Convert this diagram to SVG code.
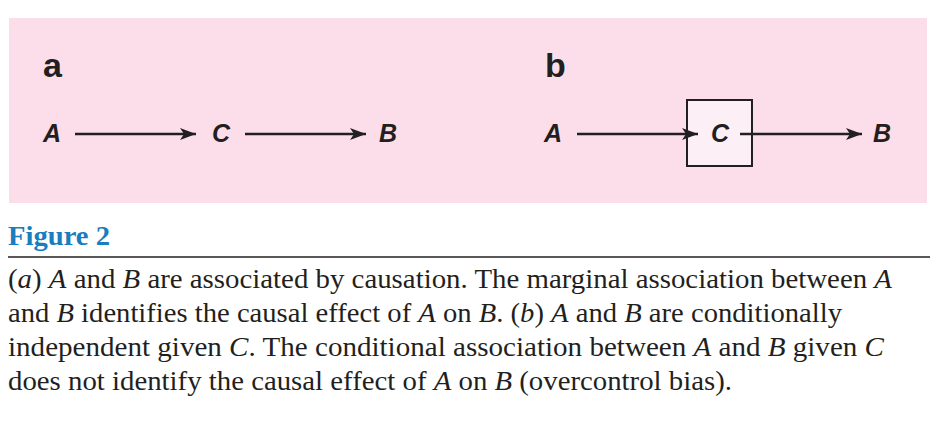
<svg xmlns="http://www.w3.org/2000/svg" width="942" height="424" viewBox="0 0 942 424">
<defs>
<style>
.lbl{font-family:"Liberation Sans",Arial,sans-serif;font-weight:bold;font-style:italic;font-size:25px;fill:#231f20}
.pl{font-family:"Liberation Sans",Arial,sans-serif;font-weight:bold;font-size:34px;fill:#231f20}
.edge{stroke:#231f20;stroke-width:2.6;fill:none}
.cap{font-family:"Liberation Serif","Times New Roman",serif;font-size:27px;fill:#231f20}
.it{font-style:italic}
</style>
<marker id="ah" markerUnits="userSpaceOnUse" markerWidth="18" markerHeight="14" refX="16" refY="7" orient="auto">
<path d="M0,1 L16,7 L0,13 L4,7 Z" fill="#231f20"/>
</marker>
</defs>
<rect width="942" height="424" fill="#ffffff"/>
<rect x="9" y="18" width="918" height="185" fill="#fcdeea"/>
<text class="pl" x="43" y="77">a</text>
<text class="pl" x="545" y="77">b</text>
<g id="a-A"><text class="lbl" x="43" y="142">A</text></g>
<g id="a-C"><text class="lbl" x="212" y="142">C</text></g>
<g id="a-B"><text class="lbl" x="379" y="142">B</text></g>
<g id="b-A"><text class="lbl" x="544" y="142">A</text></g>
<g id="b-C"><rect x="687" y="100" width="65" height="66" fill="#fcf0f6" stroke="#231f20" stroke-width="2"/><text class="lbl" x="711" y="142">C</text></g>
<g id="b-B"><text class="lbl" x="873" y="142">B</text></g>
<g id="connectors">
<line class="edge" x1="75" y1="134" x2="196" y2="134" marker-end="url(#ah)"/>
<line class="edge" x1="245" y1="134" x2="366" y2="134" marker-end="url(#ah)"/>
<line class="edge" x1="577" y1="134" x2="698" y2="134" marker-end="url(#ah)"/>
<line class="edge" x1="740" y1="134" x2="862" y2="134" marker-end="url(#ah)"/>
</g>
<text x="8" y="245" font-family="'Liberation Serif','Times New Roman',serif" font-weight="bold" font-size="27" fill="#1a7dc0" textLength="102" lengthAdjust="spacingAndGlyphs">Figure 2</text>
<line x1="8" y1="257" x2="930" y2="257" stroke="#231f20" stroke-width="1.5"/>
<text class="cap" x="8" y="288" textLength="884" lengthAdjust="spacingAndGlyphs">(<tspan class="it">a</tspan>) <tspan class="it">A</tspan> and <tspan class="it">B</tspan> are associated by causation. The marginal association between <tspan class="it">A</tspan></text>
<text class="cap" x="8" y="322" textLength="834" lengthAdjust="spacingAndGlyphs">and <tspan class="it">B</tspan> identifies the causal effect of <tspan class="it">A</tspan> on <tspan class="it">B</tspan>. (<tspan class="it">b</tspan>) <tspan class="it">A</tspan> and <tspan class="it">B</tspan> are conditionally</text>
<text class="cap" x="8" y="356" textLength="876" lengthAdjust="spacingAndGlyphs">independent given <tspan class="it">C</tspan>. The conditional association between <tspan class="it">A</tspan> and <tspan class="it">B</tspan> given <tspan class="it">C</tspan></text>
<text class="cap" x="8" y="390" textLength="724" lengthAdjust="spacingAndGlyphs">does not identify the causal effect of <tspan class="it">A</tspan> on <tspan class="it">B</tspan> (overcontrol bias).</text>
</svg>
